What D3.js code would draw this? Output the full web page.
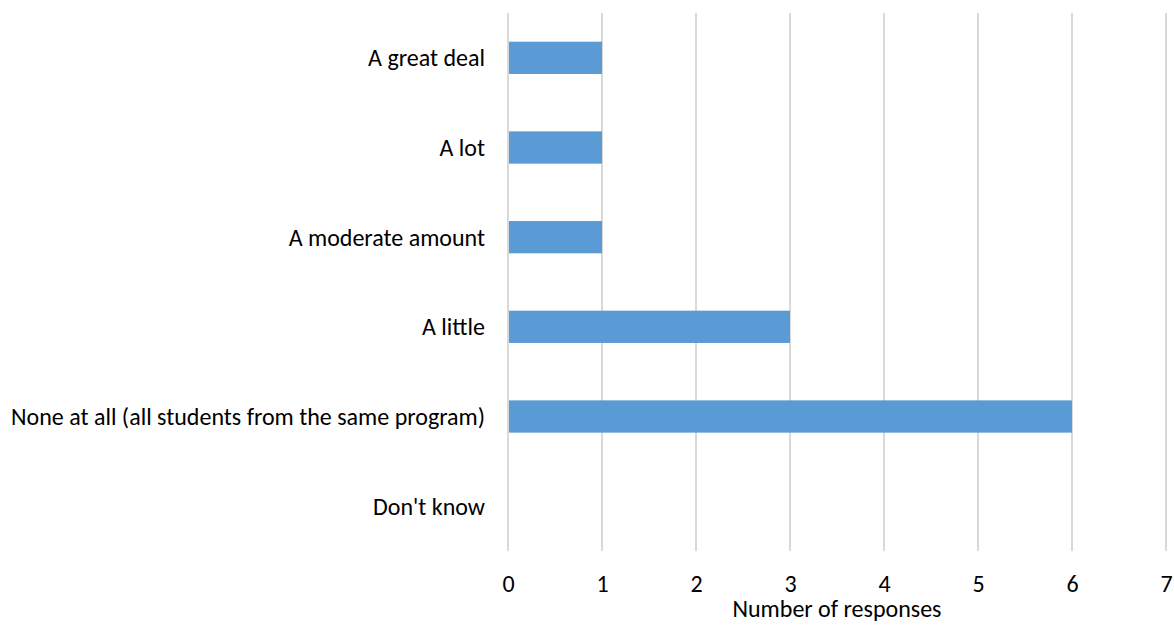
<!DOCTYPE html>
<html><head><meta charset="utf-8">
<script src="https://cdn.jsdelivr.net/npm/d3@7"></script>
<style>body{margin:0;background:#fff}text{font-family:Carlito,Lato,"Open Sans",sans-serif}</style>
</head><body><svg id="c" width="1174" height="628"></svg>
<script>
const categories = ["A great deal","A lot","A moderate amount","A little","None at all (all students from the same program)","Don't know"];
const values = [1,1,1,3,6,0];
const xTicks = [0,1,2,3,4,5,6,7];
const xTitle = "Number of responses";

const svg = d3.select("#c");
const m = {left:508, right:1166, top:13, bottom:551};
const x = d3.scaleLinear().domain([0,7]).range([m.left,m.right]);
const y = d3.scaleBand().domain(categories).range([m.top,m.bottom]).paddingInner(0.64).paddingOuter(0.32);
const fs = 24;
const ff = "Carlito,Lato,'Open Sans',sans-serif";

svg.append("g").selectAll("line").data(xTicks).join("line")
  .attr("x1",d=>x(d)).attr("x2",d=>x(d)).attr("y1",m.top).attr("y2",m.bottom)
  .attr("stroke","#d9d9d9").attr("stroke-width",2);

svg.append("g").selectAll("rect").data(categories).join("rect")
  .attr("x",x(0)+1).attr("y",d=>y(d)).attr("height",y.bandwidth())
  .attr("width",(d,i)=>Math.max(0,x(values[i])-x(0)-1)).attr("fill","#5b9bd5");

svg.append("g").selectAll("text").data(categories).join("text")
  .attr("x",485).attr("y",d=>y(d)+y.bandwidth()/2).attr("dy","0.35em")
  .attr("text-anchor","end").attr("font-size",fs).attr("fill","#000").text(d=>d);

const xa = svg.append("g").attr("transform",`translate(0,${m.bottom})`)
  .call(d3.axisBottom(x).tickValues(xTicks).tickFormat(d3.format("d")).tickSize(0));
xa.select(".domain").remove();
xa.selectAll("text").attr("y",41).attr("dy",0).attr("font-size",fs).attr("fill","#000").style("font-family",ff);

svg.append("text").attr("x",(x(0)+x(7))/2).attr("y",617).attr("text-anchor","middle")
  .attr("font-size",fs).attr("fill","#000").text(xTitle);
</script></body></html>
